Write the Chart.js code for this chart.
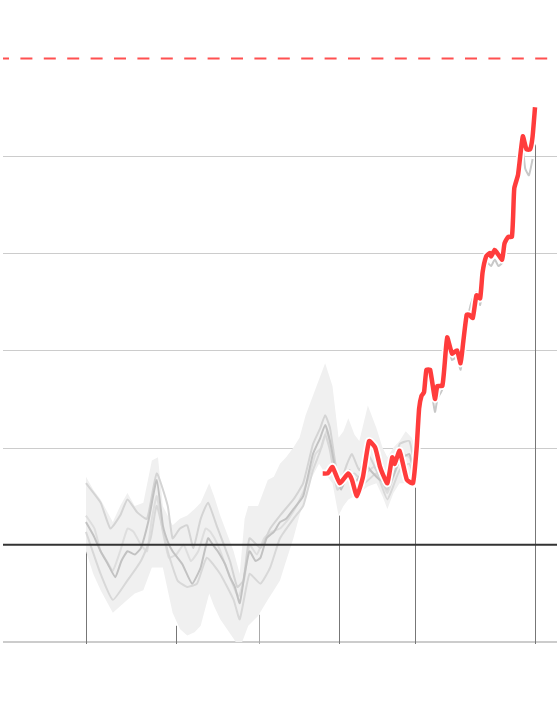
<!DOCTYPE html>
<html lang="en">
<head>
    <meta charset="UTF-8">
    <title>Temperature reconstruction</title>
    <script src="https://cdn.jsdelivr.net/npm/chart.js"></script>
    <style>
        body { margin: 0; background: #fff; }
        #wrap { width: 560px; height: 720px; }
    </style>
</head>
<body>
<div id="wrap"><canvas id="tempChart"></canvas></div>

<script>
    // range of reconstructions (shaded band)
    const bandYears = [1656, 1662, 1668, 1678, 1684, 1690, 1696, 1703, 1710, 1715, 1719, 1727, 1733, 1739, 1745, 1750, 1757, 1761, 1766, 1777, 1782, 1786, 1789, 1797, 1805, 1810, 1815, 1820, 1826, 1831, 1836, 1840, 1847, 1852, 1858, 1863, 1867, 1871, 1876, 1880, 1887, 1894, 1899, 1903, 1908, 1913, 1918, 1923, 1927];
    const bandHigh = [0.21, 0.17, 0.14, 0.07, 0.12, 0.16, 0.12, 0.13, 0.26, 0.27, 0.12, 0.06, 0.08, 0.09, 0.11, 0.13, 0.19, 0.15, 0.09, -0.02, -0.09, 0.08, 0.12, 0.12, 0.20, 0.21, 0.25, 0.27, 0.30, 0.33, 0.40, 0.44, 0.51, 0.56, 0.49, 0.33, 0.35, 0.39, 0.34, 0.32, 0.43, 0.36, 0.30, 0.27, 0.30, 0.32, 0.35, 0.33, 0.29];
    const bandLow = [-0.02, -0.09, -0.14, -0.21, -0.19, -0.17, -0.15, -0.14, -0.07, -0.07, -0.07, -0.21, -0.26, -0.28, -0.27, -0.25, -0.15, -0.19, -0.23, -0.29, -0.32, -0.28, -0.25, -0.22, -0.17, -0.14, -0.11, -0.05, 0.02, 0.09, 0.15, 0.20, 0.25, 0.22, 0.19, 0.09, 0.12, 0.14, 0.15, 0.16, 0.18, 0.19, 0.15, 0.11, 0.16, 0.19, 0.19, 0.20, 0.19];

    // individual reconstructions (grey lines)
    const yearsA = [1656, 1668, 1676, 1684, 1690, 1698, 1706, 1714, 1723, 1727, 1733, 1739, 1744, 1750, 1756, 1763, 1774, 1780, 1785, 1790, 1799, 1807, 1815, 1826, 1834, 1842, 1848, 1852, 1856, 1860, 1864, 1870, 1874, 1880, 1887, 1894, 1903, 1913, 1921, 1926];
    const valuesA = [0.19, 0.13, 0.05, 0.09, 0.14, 0.10, 0.08, 0.22, 0.12, 0.02, 0.05, 0.06, -0.01, 0.08, 0.13, 0.06, -0.05, -0.13, -0.11, 0.02, -0.01, 0.05, 0.09, 0.14, 0.19, 0.31, 0.36, 0.40, 0.36, 0.26, 0.19, 0.25, 0.28, 0.23, 0.28, 0.23, 0.17, 0.31, 0.32, 0.23];

    const yearsB = [1656, 1662, 1668, 1674, 1680, 1685, 1690, 1696, 1701, 1707, 1714, 1719, 1723, 1727, 1735, 1743, 1750, 1756, 1760, 1764, 1770, 1774, 1778, 1782, 1786, 1790, 1795, 1799, 1804, 1810, 1815, 1820, 1826, 1834, 1842, 1848, 1852, 1856, 1861, 1865, 1872, 1876, 1880, 1885, 1889, 1897, 1905, 1913, 1921, 1926];
    const valuesB = [0.07, 0.03, -0.02, -0.06, -0.10, -0.05, -0.02, -0.03, -0.01, 0.07, 0.20, 0.06, 0.01, -0.02, -0.06, -0.12, -0.07, 0.02, 0.00, -0.02, -0.06, -0.10, -0.13, -0.18, -0.09, -0.02, -0.05, -0.04, 0.02, 0.04, 0.07, 0.08, 0.11, 0.15, 0.28, 0.33, 0.37, 0.32, 0.22, 0.17, 0.23, 0.19, 0.21, 0.25, 0.23, 0.20, 0.19, 0.26, 0.28, 0.20];

    const yearsC = [1656, 1668, 1678, 1690, 1701, 1709, 1714, 1723, 1731, 1739, 1747, 1755, 1766, 1777, 1782, 1790, 1799, 1807, 1815, 1826, 1834, 1842, 1848, 1852, 1856, 1862, 1868, 1876, 1884, 1894, 1903, 1913, 1921, 1926];
    const valuesC = [0.04, -0.09, -0.17, -0.11, -0.05, 0.02, 0.12, -0.02, -0.11, -0.13, -0.12, -0.04, -0.09, -0.17, -0.23, -0.09, -0.12, -0.07, 0.02, 0.08, 0.12, 0.23, 0.29, 0.34, 0.29, 0.17, 0.20, 0.22, 0.19, 0.22, 0.14, 0.23, 0.25, 0.19];

    const yearsD = [1656, 1663, 1668, 1673, 1678, 1684, 1690, 1695, 1701, 1706, 1710, 1714, 1719, 1724, 1730, 1736, 1742, 1748, 1754, 1758, 1764, 1770, 1776, 1781, 1786, 1790, 1796, 1802, 1808, 1815, 1822, 1830, 1838, 1844, 1849, 1853, 1857, 1861, 1866, 1872, 1878, 1885, 1892, 1898, 1903, 1909, 1915, 1921, 1926];
    const valuesD = [0.09, 0.05, -0.02, -0.05, -0.08, -0.02, 0.05, 0.04, 0.00, -0.02, 0.08, 0.15, 0.04, -0.04, -0.03, 0.00, -0.05, -0.02, 0.05, 0.04, 0.00, -0.06, -0.12, -0.16, -0.10, 0.00, -0.03, 0.02, 0.04, 0.05, 0.08, 0.13, 0.20, 0.28, 0.30, 0.35, 0.30, 0.20, 0.18, 0.22, 0.20, 0.22, 0.24, 0.20, 0.16, 0.22, 0.28, 0.27, 0.21];

    const yearsE = [1927, 1931, 1935, 1938, 1942, 1944, 1948, 1952, 1956, 1960, 1963, 1966, 1970, 1973, 1976, 1979, 1982, 1985, 1988, 1991, 1994, 1997, 2000, 2003, 2006, 2008, 2011, 2014, 2016, 2019, 2022];
    const valuesE = [0.23, 0.44, 0.52, 0.50, 0.41, 0.45, 0.48, 0.61, 0.57, 0.58, 0.54, 0.62, 0.72, 0.76, 0.78, 0.74, 0.82, 0.87, 0.86, 0.88, 0.86, 0.87, 0.92, 0.94, 1.00, 1.09, 1.15, 1.22, 1.16, 1.14, 1.19];

    // instrumental record (red)
    const obsYears = [1850, 1854, 1858, 1864, 1871, 1874, 1878, 1883, 1888, 1893, 1897, 1899, 1903, 1907, 1909, 1913, 1919, 1924, 1927, 1929, 1931, 1933, 1935, 1938, 1942, 1944, 1948, 1950, 1952, 1956, 1960, 1963, 1965, 1968, 1970, 1973, 1976, 1979, 1981, 1984, 1987, 1988, 1991, 1993, 1997, 1999, 2002, 2005, 2006, 2007, 2010, 2011, 2014, 2017, 2020, 2022, 2024];
    const obsValues = [0.22, 0.22, 0.24, 0.19, 0.22, 0.20, 0.15, 0.21, 0.32, 0.30, 0.24, 0.22, 0.19, 0.27, 0.25, 0.29, 0.20, 0.19, 0.30, 0.42, 0.46, 0.47, 0.54, 0.54, 0.45, 0.49, 0.49, 0.56, 0.64, 0.59, 0.60, 0.56, 0.62, 0.71, 0.71, 0.70, 0.77, 0.76, 0.84, 0.89, 0.90, 0.89, 0.91, 0.90, 0.88, 0.93, 0.95, 0.95, 1.01, 1.10, 1.14, 1.17, 1.26, 1.22, 1.22, 1.26, 1.35];

    // marker lines: year and the level they reach up to
    const markYears = [1656, 1730, 1798, 1863, 1926, 2024];
    const markTops = [0.195, -0.25, -0.216, 0.09, 0.176, 1.235];

    const gridValues = [0.3, 0.6, 0.9, 1.2];
    const floorValue = -0.3;
    const targetValue = 1.5;

    const pts = (xs, ys) => xs.map((x, i) => ({ x: x, y: ys[i] }));

    const greyLine = (xs, ys, color, order) => ({
        data: pts(xs, ys),
        borderColor: color,
        borderWidth: 2,
        pointRadius: 0,
        tension: 0.15,
        fill: false,
        clip: false,
        order: order
    });

    const overlay = {
        id: 'overlay',
        beforeDatasetsDraw(chart) {
            const { ctx, chartArea, scales: { x, y } } = chart;
            ctx.save();
            ctx.strokeStyle = '#cccccc';
            ctx.lineWidth = 1;
            gridValues.forEach(v => {
                const py = Math.round(y.getPixelForValue(v)) + 0.5;
                ctx.beginPath();
                ctx.moveTo(chartArea.left, py);
                ctx.lineTo(chartArea.right, py);
                ctx.stroke();
            });
            ctx.lineWidth = 2;
            const fy = y.getPixelForValue(floorValue);
            ctx.beginPath();
            ctx.moveTo(chartArea.left, fy);
            ctx.lineTo(chartArea.right, fy);
            ctx.stroke();

            ctx.lineWidth = 1;
            markYears.forEach((yr, i) => {
                const px = Math.round(x.getPixelForValue(yr)) + 0.5;
                ctx.strokeStyle = i === 2 ? '#aaaaaa' : '#777777';
                ctx.beginPath();
                ctx.moveTo(px, fy + 2);
                ctx.lineTo(px, y.getPixelForValue(markTops[i]));
                ctx.stroke();
            });
            ctx.restore();
        },
        afterDatasetsDraw(chart) {
            const { ctx, chartArea, scales: { y } } = chart;
            ctx.save();
            ctx.strokeStyle = '#333333';
            ctx.lineWidth = 2;
            const zy = y.getPixelForValue(0);
            ctx.beginPath();
            ctx.moveTo(chartArea.left, zy);
            ctx.lineTo(chartArea.right, zy);
            ctx.stroke();

            ctx.strokeStyle = '#ff5050';
            ctx.setLineDash([12, 11.4]);
            ctx.lineDashOffset = 6;
            const ty = y.getPixelForValue(targetValue);
            ctx.beginPath();
            ctx.moveTo(chartArea.left, ty);
            ctx.lineTo(chartArea.right - 8, ty);
            ctx.stroke();
            ctx.restore();
        }
    };

    const ctx = document.getElementById('tempChart').getContext('2d');
    new Chart(ctx, {
        type: 'line',
        data: {
            datasets: [
                {
                    data: pts(obsYears, obsValues),
                    borderColor: '#ff3c3c',
                    borderWidth: 4.5,
                    pointRadius: 0,
                    tension: 0.15,
                    fill: false,
                    clip: false,
                    order: 0
                },
                {
                    data: pts(obsYears, obsValues),
                    borderColor: '#ffffff',
                    borderWidth: 8,
                    pointRadius: 0,
                    tension: 0.15,
                    fill: false,
                    clip: false,
                    order: 1
                },
                greyLine(yearsE, valuesE, '#c8c8c8', 2),
                greyLine(yearsB, valuesB, '#c2c2c2', 3),
                greyLine(yearsA, valuesA, '#d4d4d4', 4),
                greyLine(yearsC, valuesC, '#d8d8d8', 5),
                greyLine(yearsD, valuesD, '#dedede', 6),
                {
                    data: pts(bandYears, bandHigh),
                    borderWidth: 0,
                    borderColor: 'rgba(0,0,0,0)',
                    backgroundColor: '#f0f0f0',
                    pointRadius: 0,
                    fill: '+1',
                    clip: false,
                    order: 10
                },
                {
                    data: pts(bandYears, bandLow),
                    borderWidth: 0,
                    borderColor: 'rgba(0,0,0,0)',
                    pointRadius: 0,
                    fill: false,
                    clip: false,
                    order: 11
                }
            ]
        },
        options: {
            responsive: true,
            maintainAspectRatio: false,
            animation: false,
            layout: { padding: { left: 3, right: 3, top: 10, bottom: 78 } },
            plugins: { legend: { display: false }, tooltip: { enabled: false } },
            scales: {
                x: { type: 'linear', min: 1588, max: 2042, display: false },
                y: { min: -0.3, max: 1.65, display: false }
            }
        },
        plugins: [overlay]
    });
</script>
</body>
</html>
